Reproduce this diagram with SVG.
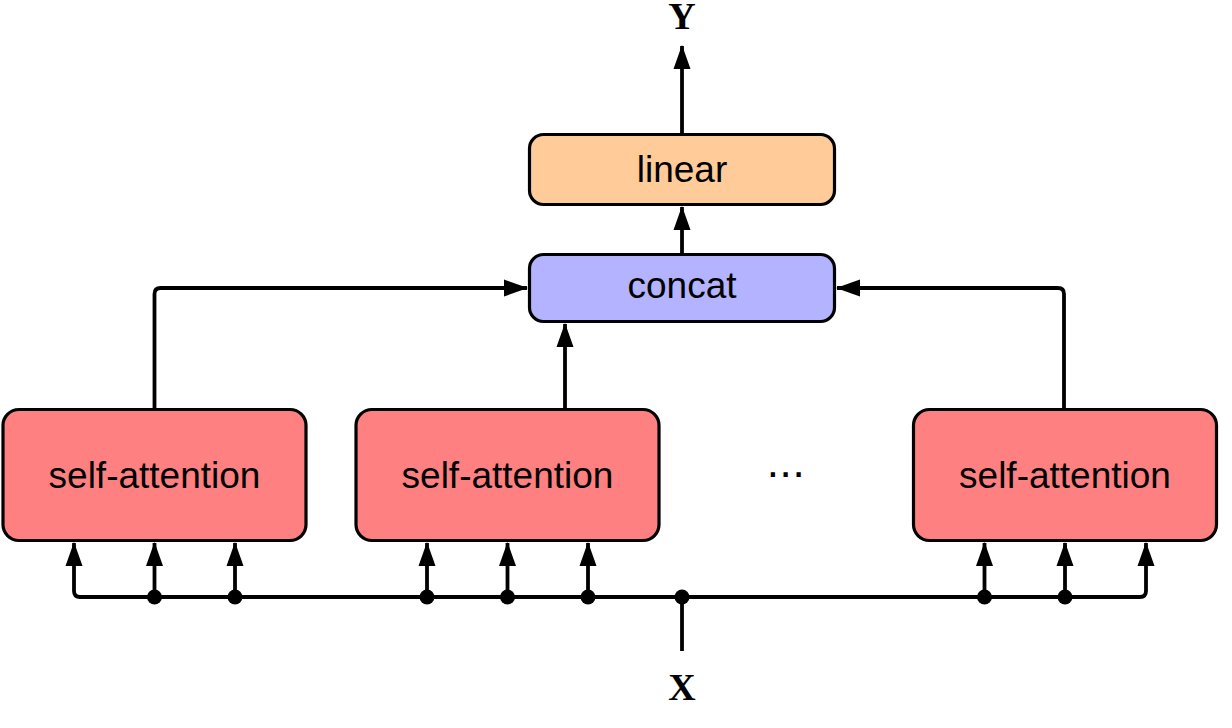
<svg xmlns="http://www.w3.org/2000/svg" width="1232" height="728" viewBox="0 0 1232 728">
  <style>
    .box { stroke: #000; stroke-width: 3.2; }
    .sa { fill: #FF8080; }
    .cc { fill: #B3B3FF; }
    .ln { fill: #FFCC99; }
    .lbl { font-family: "Liberation Sans", Arial, sans-serif; font-size: 37px; fill: #000; text-anchor: middle; }
    .var { font-family: "Liberation Serif", "Times New Roman", serif; font-weight: bold; font-size: 38px; fill: #000; text-anchor: middle; }
    .wire { fill: none; stroke: #000; stroke-width: 3.8; stroke-linejoin: round; }
  </style>
  <defs>
    <marker id="arr" viewBox="0 0 24 18" refX="23" refY="9" markerWidth="24" markerHeight="18" markerUnits="userSpaceOnUse" orient="auto">
      <path d="M0,0.5 L24,9 L0,17.5 Z" fill="#000"/>
    </marker>
  </defs>

  <g id="connectors">
    <!-- output -->
    <path class="wire" d="M682,134 V46" marker-end="url(#arr)"/>
    <path class="wire" d="M682,253 V207" marker-end="url(#arr)"/>
    <!-- heads to concat -->
    <path class="wire" d="M154.5,408 V294 Q154.5,288 160.5,288 H527" marker-end="url(#arr)"/>
    <path class="wire" d="M565,408 V324" marker-end="url(#arr)"/>
    <path class="wire" d="M1064,408 V294 Q1064,288 1058,288 H837" marker-end="url(#arr)"/>
    <!-- input bus -->
    <path class="wire" d="M682,651 V597"/>
    <path class="wire" d="M80,597 H1140 Q1146,597 1146,591 V543" marker-end="url(#arr)"/>
    <path class="wire" d="M80,597 Q74,597 74,591 V543" marker-end="url(#arr)"/>
    <path class="wire" d="M154.5,597 V543" marker-end="url(#arr)"/>
    <path class="wire" d="M235,597 V543" marker-end="url(#arr)"/>
    <path class="wire" d="M427,597 V543" marker-end="url(#arr)"/>
    <path class="wire" d="M507.5,597 V543" marker-end="url(#arr)"/>
    <path class="wire" d="M588,597 V543" marker-end="url(#arr)"/>
    <path class="wire" d="M984.5,597 V543" marker-end="url(#arr)"/>
    <path class="wire" d="M1065,597 V543" marker-end="url(#arr)"/>
    <g fill="#000">
      <circle cx="154.5" cy="597" r="7.5"/>
      <circle cx="235" cy="597" r="7.5"/>
      <circle cx="427" cy="597" r="7.5"/>
      <circle cx="507.5" cy="597" r="7.5"/>
      <circle cx="588" cy="597" r="7.5"/>
      <circle cx="682" cy="597" r="7.5"/>
      <circle cx="984.5" cy="597" r="7.5"/>
      <circle cx="1065" cy="597" r="7.5"/>
    </g>
  </g>

  <g id="linear">
    <rect class="box ln" x="529.5" y="134.5" width="305" height="70" rx="14"/>
    <text class="lbl" x="682" y="182">linear</text>
  </g>
  <g id="concat">
    <rect class="box cc" x="529.5" y="254.5" width="305" height="67" rx="14"/>
    <text class="lbl" x="682" y="298">concat</text>
  </g>
  <g id="head1">
    <rect class="box sa" x="3" y="409.5" width="303" height="131" rx="16"/>
    <text class="lbl" x="154.5" y="488">self-attention</text>
  </g>
  <g id="head2">
    <rect class="box sa" x="356" y="409.5" width="303" height="131" rx="16"/>
    <text class="lbl" x="507.5" y="488">self-attention</text>
  </g>
  <g id="head3">
    <rect class="box sa" x="913.5" y="409.5" width="303" height="131" rx="16"/>
    <text class="lbl" x="1065" y="488">self-attention</text>
  </g>
  <g id="ellipsis">
    <text class="lbl" x="786" y="477" style="font-size:44px" letter-spacing="0.6">...</text>
  </g>
  <g id="Y">
    <text class="var" x="682" y="29">Y</text>
  </g>
  <g id="X">
    <text class="var" x="682" y="700">X</text>
  </g>
</svg>
